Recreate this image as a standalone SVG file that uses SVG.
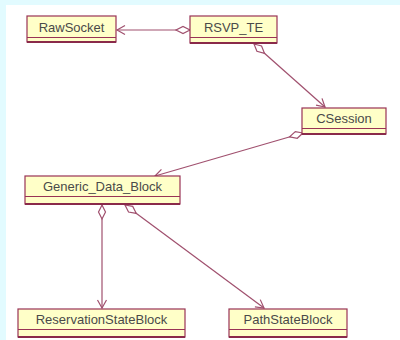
<svg xmlns="http://www.w3.org/2000/svg" width="400" height="340" viewBox="0 0 400 340">
  <style>
    .box { fill: #ffffc8; stroke: #993355; stroke-width: 1.2; }
    .div { stroke: #993355; stroke-width: 1; }
    .base { stroke: #8a2a4a; stroke-width: 2; }
    .lbl { font-family: "Liberation Sans", Arial, sans-serif; font-size: 13px; fill: #4a4a4a; text-anchor: middle; }
    .edge { fill: none; stroke: #a0506e; stroke-width: 1.2; marker-start: url(#agg); marker-end: url(#nav); }
  </style>
  <defs>
    <marker id="agg" markerUnits="userSpaceOnUse" markerWidth="16" markerHeight="10" viewBox="-1 -5 16 10" refX="0" refY="0" orient="auto" overflow="visible">
      <path d="M0,0 L7,-3.5 L14,0 L7,3.5 Z" fill="#ffffff" stroke="#a0506e" stroke-width="1.2"/>
    </marker>
    <marker id="nav" markerUnits="userSpaceOnUse" markerWidth="12" markerHeight="12" viewBox="-10 -6 12 12" refX="0" refY="0" orient="auto" overflow="visible">
      <path d="M-8,-4.5 L0,0 L-8,4.5" fill="none" stroke="#a0506e" stroke-width="1.2"/>
    </marker>
  </defs>

  <!-- canvas -->
  <rect x="0" y="0" width="400" height="340" fill="#ffffff"/>
  <rect x="0" y="0" width="400" height="5" fill="#e2fbff"/>
  <rect x="0" y="0" width="6" height="340" fill="#e2fbff"/>

  <!-- associations -->
  <g id="connectors">
    <path class="edge" d="M190,30 L117,30"/>
    <path class="edge" d="M254,44 L325,107"/>
    <path class="edge" d="M303,133 L155,176"/>
    <path class="edge" d="M102,205 L102,308"/>
    <path class="edge" d="M125,205 L264,308"/>
  </g>

  <g id="RawSocket">
    <rect class="box" x="27" y="16" width="89" height="26"/>
    <line class="div" x1="27" y1="37.5" x2="116" y2="37.5"/>
    <line class="base" x1="27" y1="42" x2="116" y2="42"/>
    <text class="lbl" x="71.5" y="31.5">RawSocket</text>
  </g>

  <g id="RSVP_TE">
    <rect class="box" x="190" y="16" width="87" height="27"/>
    <line class="div" x1="190" y1="37.5" x2="277" y2="37.5"/>
    <line class="base" x1="190" y1="43" x2="277" y2="43"/>
    <text class="lbl" x="233.5" y="31.5">RSVP_TE</text>
  </g>

  <g id="CSession">
    <rect class="box" x="302" y="108" width="84" height="26"/>
    <line class="div" x1="302" y1="128.5" x2="386" y2="128.5"/>
    <line class="base" x1="302" y1="134" x2="386" y2="134"/>
    <text class="lbl" x="344" y="123">CSession</text>
  </g>

  <g id="Generic_Data_Block">
    <rect class="box" x="25" y="176" width="155" height="28"/>
    <line class="div" x1="25" y1="196.5" x2="180" y2="196.5"/>
    <line class="base" x1="25" y1="204" x2="180" y2="204"/>
    <text class="lbl" x="102.5" y="191">Generic_Data_Block</text>
  </g>

  <g id="ReservationStateBlock">
    <rect class="box" x="18" y="309" width="167" height="28"/>
    <line class="div" x1="18" y1="329.5" x2="185" y2="329.5"/>
    <line class="base" x1="18" y1="337" x2="185" y2="337"/>
    <text class="lbl" x="101.5" y="324">ReservationStateBlock</text>
  </g>

  <g id="PathStateBlock">
    <rect class="box" x="229" y="309" width="118" height="28"/>
    <line class="div" x1="229" y1="329.5" x2="347" y2="329.5"/>
    <line class="base" x1="229" y1="337" x2="347" y2="337"/>
    <text class="lbl" x="288" y="324">PathStateBlock</text>
  </g>
</svg>
